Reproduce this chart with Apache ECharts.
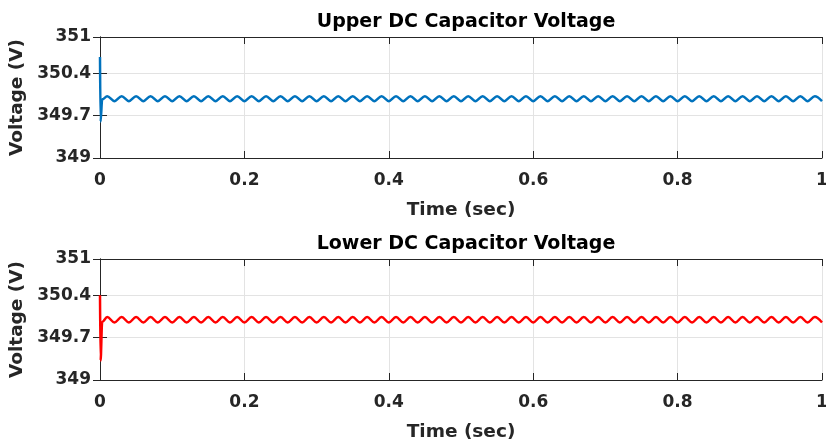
<!DOCTYPE html>
<html>
<head>
<meta charset="utf-8">
<script src="https://cdn.jsdelivr.net/npm/echarts@6/dist/echarts.min.js"></script>
<style>
  html, body { margin: 0; padding: 0; background: #fff; }
  #chart { width: 826px; height: 448px; }
</style>
</head>
<body>
<div id="chart"></div>
<script>
// Sample times (s): start-up transient, then ripple peaks/troughs every 10 ms
const timeSec = [
  0, 0.0008, 0.003,
  0.01, 0.02, 0.03, 0.04, 0.05, 0.06, 0.07, 0.08, 0.09, 0.10,
  0.11, 0.12, 0.13, 0.14, 0.15, 0.16, 0.17, 0.18, 0.19, 0.20,
  0.21, 0.22, 0.23, 0.24, 0.25, 0.26, 0.27, 0.28, 0.29, 0.30,
  0.31, 0.32, 0.33, 0.34, 0.35, 0.36, 0.37, 0.38, 0.39, 0.40,
  0.41, 0.42, 0.43, 0.44, 0.45, 0.46, 0.47, 0.48, 0.49, 0.50,
  0.51, 0.52, 0.53, 0.54, 0.55, 0.56, 0.57, 0.58, 0.59, 0.60,
  0.61, 0.62, 0.63, 0.64, 0.65, 0.66, 0.67, 0.68, 0.69, 0.70,
  0.71, 0.72, 0.73, 0.74, 0.75, 0.76, 0.77, 0.78, 0.79, 0.80,
  0.81, 0.82, 0.83, 0.84, 0.85, 0.86, 0.87, 0.88, 0.89, 0.90,
  0.91, 0.92, 0.93, 0.94, 0.95, 0.96, 0.97, 0.98, 0.99, 1.00
];

// Upper DC-link capacitor voltage (V)
const upperVoltage = [
  350.67, 349.60, 349.97,
  350.02, 349.94, 350.02, 349.94, 350.02, 349.94, 350.02, 349.94, 350.02, 349.94,
  350.02, 349.94, 350.02, 349.94, 350.02, 349.94, 350.02, 349.94, 350.02, 349.94,
  350.02, 349.94, 350.02, 349.94, 350.02, 349.94, 350.02, 349.94, 350.02, 349.94,
  350.02, 349.94, 350.02, 349.94, 350.02, 349.94, 350.02, 349.94, 350.02, 349.94,
  350.02, 349.94, 350.02, 349.94, 350.02, 349.94, 350.02, 349.94, 350.02, 349.94,
  350.02, 349.94, 350.02, 349.94, 350.02, 349.94, 350.02, 349.94, 350.02, 349.94,
  350.02, 349.94, 350.02, 349.94, 350.02, 349.94, 350.02, 349.94, 350.02, 349.94,
  350.02, 349.94, 350.02, 349.94, 350.02, 349.94, 350.02, 349.94, 350.02, 349.94,
  350.02, 349.94, 350.02, 349.94, 350.02, 349.94, 350.02, 349.94, 350.02, 349.94,
  350.02, 349.94, 350.02, 349.94, 350.02, 349.94, 350.02, 349.94, 350.02, 349.94
];

// Lower DC-link capacitor voltage (V)
const lowerVoltage = [
  350.40, 349.32, 349.96,
  350.04, 349.95, 350.04, 349.95, 350.04, 349.95, 350.04, 349.95, 350.04, 349.95,
  350.04, 349.95, 350.04, 349.95, 350.04, 349.95, 350.04, 349.95, 350.04, 349.95,
  350.04, 349.95, 350.04, 349.95, 350.04, 349.95, 350.04, 349.95, 350.04, 349.95,
  350.04, 349.95, 350.04, 349.95, 350.04, 349.95, 350.04, 349.95, 350.04, 349.95,
  350.04, 349.95, 350.04, 349.95, 350.04, 349.95, 350.04, 349.95, 350.04, 349.95,
  350.04, 349.95, 350.04, 349.95, 350.04, 349.95, 350.04, 349.95, 350.04, 349.95,
  350.04, 349.95, 350.04, 349.95, 350.04, 349.95, 350.04, 349.95, 350.04, 349.95,
  350.04, 349.95, 350.04, 349.95, 350.04, 349.95, 350.04, 349.95, 350.04, 349.95,
  350.04, 349.95, 350.04, 349.95, 350.04, 349.95, 350.04, 349.95, 350.04, 349.95,
  350.04, 349.95, 350.04, 349.95, 350.04, 349.95, 350.04, 349.95, 350.04, 349.95
];

const panelTitles = ['Upper DC Capacitor Voltage', 'Lower DC Capacitor Voltage'];
const xName = 'Time (sec)';
const yName = 'Voltage (V)';
const xRange = [0, 1];
const xStep = 0.2;
const yRange = [349, 351];
const yStep = 0.7;

const FONT = 'DejaVu Sans';
const INK = '#262626';
const GRID = '#e3e3e3';

const panels = [
  { top: 37, color: '#0072BD', values: upperVoltage },
  { top: 259, color: '#FF0000', values: lowerVoltage }
];

const grids = [], xAxes = [], yAxes = [], series = [], titles = [];

panels.forEach((p, i) => {
  grids.push({ left: 100, top: p.top, width: 722, height: 121, outerBoundsMode: 'none', containLabel: false });
  titles.push({
    text: panelTitles[i], left: 461, textAlign: 'center', top: p.top - 29,
    textStyle: { fontFamily: FONT, fontWeight: 'bold', fontSize: 19, color: '#000' }
  });
  const tickStyle = { show: true, inside: true, length: 7, lineStyle: { color: INK, width: 1 } };
  const lineStyle = { show: true, lineStyle: { color: INK, width: 1 } };
  // bottom axis with labels
  xAxes.push({
    gridIndex: i, type: 'value', position: 'bottom',
    min: xRange[0], max: xRange[1], interval: xStep,
    name: xName, nameLocation: 'middle', nameGap: 43,
    nameTextStyle: { fontFamily: FONT, fontWeight: 'bold', fontSize: 18.5, color: INK },
    axisLine: lineStyle, axisTick: tickStyle,
    axisLabel: { margin: 14, fontFamily: FONT, fontWeight: 'bold', fontSize: 17, color: INK },
    splitLine: { show: true, lineStyle: { color: GRID, width: 1 } }
  });
  // top box edge
  xAxes.push({
    gridIndex: i, type: 'value', position: 'top',
    min: xRange[0], max: xRange[1], interval: xStep,
    axisLine: lineStyle, axisTick: tickStyle,
    axisLabel: { show: false }, splitLine: { show: false }
  });
  // left axis with labels
  yAxes.push({
    gridIndex: i, type: 'value', position: 'left',
    min: yRange[0], max: yRange[1], interval: yStep,
    name: yName, nameLocation: 'middle', nameGap: 68, nameRotate: 90,
    nameTextStyle: { fontFamily: FONT, fontWeight: 'bold', fontSize: 18.5, color: INK },
    axisLine: lineStyle, axisTick: tickStyle,
    axisLabel: { margin: 9, fontFamily: FONT, fontWeight: 'bold', fontSize: 17, color: INK },
    splitLine: { show: true, lineStyle: { color: GRID, width: 1 } }
  });
  // right box edge
  yAxes.push({
    gridIndex: i, type: 'value', position: 'right',
    min: yRange[0], max: yRange[1], interval: yStep,
    axisLine: lineStyle, axisTick: tickStyle,
    axisLabel: { show: false }, splitLine: { show: false }
  });
  series.push({
    type: 'line',
    xAxisIndex: i * 2, yAxisIndex: i * 2,
    data: timeSec.map((t, k) => [t, p.values[k]]),
    showSymbol: false, smooth: 0.35, smoothMonotone: 'x',
    lineStyle: { color: p.color, width: 2.5 },
    itemStyle: { color: p.color },
    animation: false, clip: true
  });
});

const chart = echarts.init(document.getElementById('chart'), null, { renderer: 'canvas' });
chart.setOption({
  animation: false,
  backgroundColor: '#fff',
  title: titles,
  grid: grids,
  xAxis: xAxes,
  yAxis: yAxes,
  series: series
});
</script>
</body>
</html>
